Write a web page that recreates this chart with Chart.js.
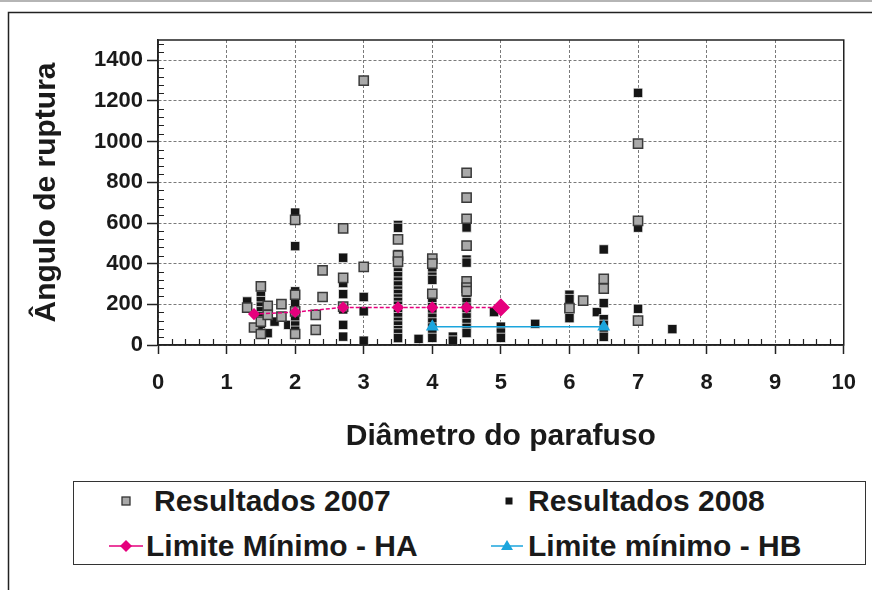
<!DOCTYPE html>
<html>
<head>
<meta charset="utf-8">
<script src="https://cdn.jsdelivr.net/npm/chart.js@4.4.1/dist/chart.umd.min.js"></script>
<style>
  html, body { margin: 0; padding: 0; background: #fff; }
  #wrap { position: relative; width: 872px; height: 590px; overflow: hidden; }
  #legend {
    position: absolute; left: 73px; top: 481px; width: 791px; height: 82px;
    border: 1.5px solid #333; background: #fff;
    font: bold 30px "Liberation Sans", Arial, sans-serif; color: #1a1a1a;
  }
  #legend span { position: absolute; line-height: 36px; white-space: nowrap; }
  #legend svg { position: absolute; }
</style>
</head>
<body>
<div id="wrap">
  <canvas id="grafico" width="872" height="590"></canvas>
  <div id="legend"></div>
</div>
<script>
// Diâmetro do parafuso x Ângulo de ruptura
const xTicks = [0, 1, 2, 3, 4, 5, 6, 7, 8, 9, 10];
const yTicks = [0, 200, 400, 600, 800, 1000, 1200, 1400];

const seriesNames = ["Resultados 2007", "Resultados 2008", "Limite Mínimo - HA", "Limite mínimo - HB"];

// Resultados 2007: diâmetro e ângulos medidos em cada diâmetro
const diam2007 = [1.3, 1.4, 1.5, 1.6, 1.8, 2, 2.3, 2.4, 2.7, 3, 3.5, 4, 4.5, 6, 6.2, 6.5, 7];
const ang2007 = [
  [184], [86], [288, 115, 54], [193, 148], [201, 140], [615, 247, 165, 54],
  [148, 74], [367, 236], [574, 330, 189], [1300, 384], [519, 440, 410],
  [425, 400, 252], [847, 725, 621, 489, 313, 282, 265], [181], [218],
  [325, 277], [990, 610, 120]
];

// Resultados 2008
const diam2008 = [1.3, 1.5, 1.6, 1.7, 1.9, 2, 2.7, 3, 3.5, 3.8, 4, 4.3, 4.5, 4.9, 5, 5.5, 6, 6.4, 6.5, 7, 7.5];
const ang2008 = [
  [214],
  [264, 241, 216, 189, 166, 141, 117, 91],
  [58],
  [115],
  [99],
  [651, 486, 264, 206, 121, 96, 70],
  [429, 305, 250, 175, 99, 41],
  [236, 166, 21],
  [590, 576, 447, 428, 402, 384, 357, 338, 312, 293, 268, 251, 229, 212, 193, 176, 153, 137, 114, 96, 73, 57, 34],
  [30],
  [355, 336, 320, 237, 212, 186, 158, 134, 111, 86, 61, 35],
  [41, 22],
  [578, 420, 405, 237, 211, 184, 161, 136, 108, 84, 59],
  [162],
  [90, 61, 35],
  [104],
  [247, 226, 132],
  [162],
  [470, 206, 127, 99, 70, 40],
  [1240, 577, 178],
  [78]
];

// Limites mínimos
const xHA = [1.4, 2, 2.7, 3.5, 4, 4.5, 5];
const yHA = [152, 162, 185, 185, 185, 185, 185];
const xHB = [4, 6.5];
const yHB = [90, 90];

const cores = { r2007: "#a9a9a9", r2008: "#151515", ha: "#e5007d", hb: "#1ba5dd" };

function pontos(diams, angs) {
  const out = [];
  diams.forEach((d, i) => angs[i].forEach(a => out.push({ x: d, y: a })));
  return out;
}
function linha(xs, ys) {
  return xs.map((x, i) => ({ x: x, y: ys[i] }));
}

const fonte = '"Liberation Sans", Arial, sans-serif';

// moldura externa e borda do gráfico
const moldura = {
  id: "moldura",
  beforeDraw(chart) {
    const ctx = chart.ctx;
    ctx.save();
    ctx.fillStyle = "#fff";
    ctx.fillRect(0, 0, chart.width, chart.height);
    ctx.fillStyle = "#b5b5b5";
    ctx.fillRect(0, 0, chart.width, 2);
    ctx.strokeStyle = "#222";
    ctx.lineWidth = 1.5;
    ctx.strokeRect(8.5, 12.5, chart.width + 20, chart.height + 20);
    ctx.restore();
  },
  beforeDatasetsDraw(chart) {
    // marcas secundárias dos eixos
    const ctx = chart.ctx, a = chart.chartArea;
    const sx = chart.scales.x, sy = chart.scales.y;
    ctx.save();
    ctx.strokeStyle = "#222";
    ctx.lineWidth = 1.2;
    ctx.beginPath();
    for (let v = 40; v < 1500; v += 40) {
      if (v % 200 === 0) continue;
      const py = Math.round(sy.getPixelForValue(v)) + 0.5;
      ctx.moveTo(a.left, py); ctx.lineTo(a.left + 6, py);
    }
    for (let k = 1; k < 50; k++) {
      if (k % 5 === 0) continue;
      const px = Math.round(sx.getPixelForValue(k / 5)) + 0.5;
      ctx.moveTo(px, a.bottom); ctx.lineTo(px, a.bottom - 6);
    }
    ctx.stroke();
    ctx.restore();
  },
  afterDraw(chart) {
    const ctx = chart.ctx, a = chart.chartArea;
    ctx.save();
    ctx.strokeStyle = "#222";
    ctx.lineWidth = 1.5;
    ctx.strokeRect(a.left, a.top, a.right - a.left, a.bottom - a.top);
    ctx.restore();
  }
};

const ctx = document.getElementById("grafico").getContext("2d");
new Chart(ctx, {
  type: "scatter",
  data: {
    datasets: [
      {
        label: seriesNames[0],
        data: pontos(diam2007, ang2007),
        pointStyle: "rect",
        pointRadius: 6.5,
        backgroundColor: cores.r2007,
        borderColor: "#3a3a3a",
        borderWidth: 1.5,
        order: 2
      },
      {
        label: seriesNames[1],
        data: pontos(diam2008, ang2008),
        pointStyle: "rect",
        pointRadius: 6.6,
        backgroundColor: cores.r2008,
        borderColor: "#ffffff",
        borderWidth: 0.7,
        order: 3
      },
      {
        label: seriesNames[2],
        data: linha(xHA, yHA),
        showLine: true,
        borderColor: cores.ha,
        borderWidth: 1.5,
        borderDash: [4, 2],
        pointStyle: "rectRot",
        pointRadius: [5, 5, 5, 5, 5, 5, 8],
        pointBackgroundColor: cores.ha,
        pointBorderColor: cores.ha,
        order: 0
      },
      {
        label: seriesNames[3],
        data: linha(xHB, yHB),
        showLine: true,
        borderColor: cores.hb,
        borderWidth: 1.5,
        pointStyle: "triangle",
        pointRadius: 6,
        pointBackgroundColor: cores.hb,
        pointBorderColor: cores.hb,
        order: 1
      }
    ]
  },
  options: {
    responsive: false,
    animation: false,
    events: [],
    layout: { padding: { left: 0, top: 40, right: 24, bottom: 115 } },
    plugins: {
      legend: { display: false },
      tooltip: { enabled: false }
    },
    scales: {
      x: {
        type: "linear",
        min: 0,
        max: 10,
        afterBuildTicks: s => { s.ticks = xTicks.map(v => ({ value: v })); },
        afterFit: s => { s.height = 130; },
        ticks: {
          color: "#1a1a1a", font: { family: fonte, size: 22, weight: "bold" }, padding: 16, maxRotation: 0,
          callback: v => String(v)
        },
        grid: { color: "#7a7a7a", lineWidth: 1, tickLength: 9, tickColor: "#222", tickWidth: 1.5 },
        border: { display: true, color: "#222", width: 1.5, dash: [3, 2] },
        title: {
          display: true,
          text: "Diâmetro do parafuso",
          color: "#1a1a1a",
          font: { family: fonte, size: 30, weight: "bold" },
          padding: { top: 0, bottom: 20 }
        }
      },
      y: {
        type: "linear",
        min: 0,
        max: 1500,
        afterBuildTicks: s => { s.ticks = yTicks.map(v => ({ value: v })); },
        afterFit: s => { s.width = 158; },
        ticks: {
          color: "#1a1a1a", font: { family: fonte, size: 22, weight: "bold" }, padding: 4,
          callback: v => String(v)
        },
        grid: { color: "#7a7a7a", lineWidth: 1, tickLength: 11, tickColor: "#222", tickWidth: 1.5 },
        border: { display: true, color: "#222", width: 1.5, dash: [3, 2] },
        title: {
          display: true,
          text: "Ângulo de ruptura",
          color: "#1a1a1a",
          font: { family: fonte, size: 30, weight: "bold" },
          padding: { top: 29, bottom: 0 }
        }
      }
    }
  },
  plugins: [moldura]
});

// legenda em HTML (duas colunas)
const leg = document.getElementById("legend");
const itens = [
  { nome: seriesNames[0], mx: 52, tx: 80, cy: 19,
    svg: '<rect x="4" y="4" width="8" height="8" fill="' + cores.r2007 + '" stroke="#333" stroke-width="1.3"/>' },
  { nome: seriesNames[1], mx: 435, tx: 454, cy: 19,
    svg: '<rect x="4.5" y="4.5" width="7" height="7" fill="' + cores.r2008 + '"/>' },
  { nome: seriesNames[2], mx: 52, tx: 72, cy: 64, linha: [35, 69], cor: cores.ha },
  { nome: seriesNames[3], mx: 433, tx: 454, cy: 64, linha: [417, 449], cor: cores.hb }
];
itens.forEach((it, i) => {
  if (it.linha) {
    const w = it.linha[1] - it.linha[0];
    const m = it.mx - it.linha[0];
    const marca = i === 2
      ? '<polygon points="' + m + ',2 ' + (m + 6) + ',8 ' + m + ',14 ' + (m - 6) + ',8" fill="' + it.cor + '"/>'
      : '<polygon points="' + m + ',2 ' + (m + 6) + ',12 ' + (m - 6) + ',12" fill="' + it.cor + '"/>';
    leg.insertAdjacentHTML("beforeend",
      '<svg width="' + w + '" height="16" style="left:' + it.linha[0] + 'px;top:' + (it.cy - 8) + 'px">' +
      '<line x1="0" y1="8" x2="' + w + '" y2="8" stroke="' + it.cor + '" stroke-width="1.5"/>' + marca + '</svg>');
  } else {
    leg.insertAdjacentHTML("beforeend",
      '<svg width="16" height="16" style="left:' + (it.mx - 8) + 'px;top:' + (it.cy - 8) + 'px">' + it.svg + '</svg>');
  }
  const s = document.createElement("span");
  s.textContent = it.nome;
  s.style.left = it.tx + "px";
  s.style.top = (it.cy - 18) + "px";
  leg.appendChild(s);
});
</script>
</body>
</html>
